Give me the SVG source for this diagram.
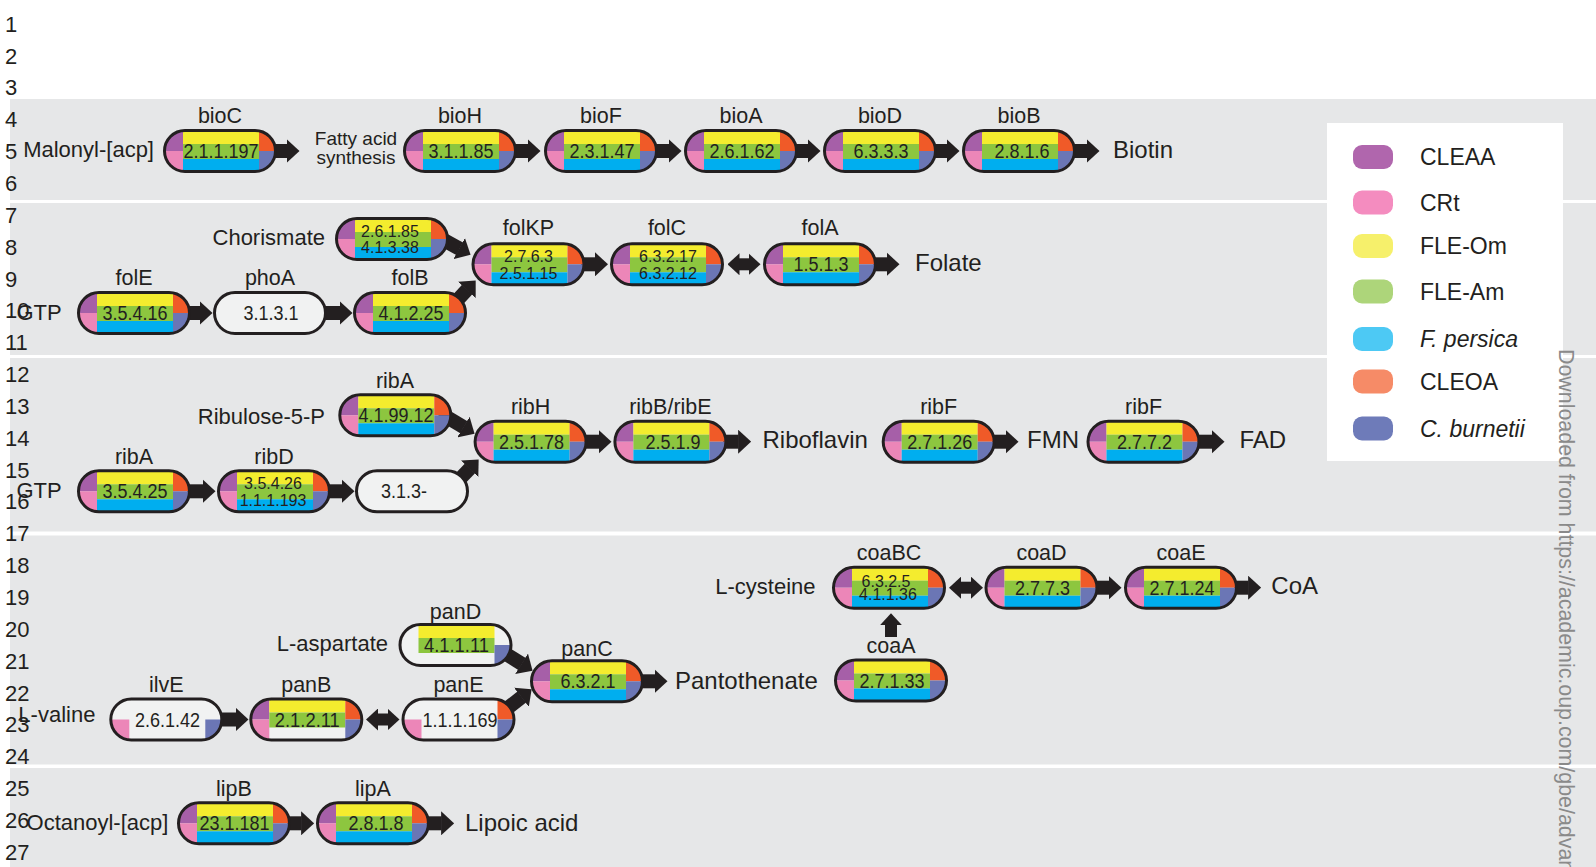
<svg xmlns="http://www.w3.org/2000/svg" xmlns:xlink="http://www.w3.org/1999/xlink" width="1596" height="867" viewBox="0 0 1596 867">
<style>
.t{font-family:"Liberation Sans",Arial,sans-serif;fill:#231f20}
.num{font-size:22px}
.sub{font-size:22px}
.sub.e{text-anchor:end}
.prod{font-size:24px}
.gene{font-size:21.5px;text-anchor:middle}
.ec{font-size:20px;text-anchor:middle}
.ec2{font-size:16px;text-anchor:middle}
.leg{font-size:23px}
.it{font-style:italic}
.band{fill:#e6e7e8}
.po{fill:none;stroke:#231f20;stroke-width:3}
.c{stroke:#231f20;stroke-width:14;fill:none}
.c2{stroke:#231f20;stroke-width:12;fill:none}
.wm{font-family:"Liberation Sans",Arial,sans-serif;font-size:21.4px;fill:#8a8a8a}
</style>
<defs>
<marker id="ah" markerUnits="userSpaceOnUse" viewBox="0 0 13 24" markerWidth="13" markerHeight="24" refX="0.5" refY="12" orient="auto"><path d="M0,0 L13,12 L0,24 Z" fill="#231f20"/></marker>
<marker id="ah2" markerUnits="userSpaceOnUse" viewBox="0 0 12 22" markerWidth="12" markerHeight="22" refX="0.5" refY="11" orient="auto-start-reverse"><path d="M0,0 L12,11 L0,22 Z" fill="#231f20"/></marker>
<clipPath id="pc"><rect x="1.5" y="-20.5" width="111" height="41" rx="20.5"/></clipPath>
<g id="pFull">
<g clip-path="url(#pc)">
<rect x="0" y="-22" width="20" height="22" fill="#a65fa8"/>
<rect x="0" y="0" width="20" height="22" fill="#ec86b8"/>
<rect x="20" y="-22" width="76" height="15" fill="#f4ec2e"/>
<rect x="20" y="-7" width="76" height="15" fill="#8dc63f"/>
<rect x="20" y="8" width="76" height="14" fill="#00aeef"/>
<rect x="96" y="-22" width="18" height="22" fill="#f05a28"/>
<rect x="96" y="0" width="18" height="22" fill="#6b76b5"/>
</g>
<rect class="po" x="1.5" y="-20.5" width="111" height="41" rx="20.5"/>
</g>
<g id="pWhite">
<rect x="1.5" y="-20.5" width="111" height="41" rx="20.5" fill="#f1f2f2"/>
<rect class="po" x="1.5" y="-20.5" width="111" height="41" rx="20.5"/>
</g>
<g id="pPanD">
<g clip-path="url(#pc)">
<rect x="0" y="-22" width="114" height="44" fill="#f1f2f2"/>
<rect x="20" y="-22" width="76" height="15" fill="#f4ec2e"/>
<rect x="20" y="-7" width="76" height="15" fill="#8dc63f"/>
<rect x="96" y="0" width="18" height="22" fill="#6b76b5"/>
</g>
<rect class="po" x="1.5" y="-20.5" width="111" height="41" rx="20.5"/>
</g>
<g id="pIlvE">
<g clip-path="url(#pc)">
<rect x="0" y="-22" width="114" height="44" fill="#f1f2f2"/>
<rect x="0" y="0" width="20" height="22" fill="#ec86b8"/>
<rect x="96" y="0" width="18" height="22" fill="#6b76b5"/>
</g>
<rect class="po" x="1.5" y="-20.5" width="111" height="41" rx="20.5"/>
</g>
<g id="pPanB">
<g clip-path="url(#pc)">
<rect x="0" y="-22" width="114" height="44" fill="#f1f2f2"/>
<rect x="0" y="-22" width="20" height="22" fill="#a65fa8"/>
<rect x="0" y="0" width="20" height="22" fill="#ec86b8"/>
<rect x="20" y="-22" width="76" height="15" fill="#f4ec2e"/>
<rect x="20" y="-7" width="76" height="15" fill="#8dc63f"/>
<rect x="96" y="-22" width="18" height="22" fill="#f05a28"/>
<rect x="96" y="0" width="18" height="22" fill="#6b76b5"/>
</g>
<rect class="po" x="1.5" y="-20.5" width="111" height="41" rx="20.5"/>
</g>
<g id="pPanE">
<g clip-path="url(#pc)">
<rect x="0" y="-22" width="114" height="44" fill="#f1f2f2"/>
<rect x="0" y="0" width="20" height="22" fill="#ec86b8"/>
<rect x="96" y="-22" width="18" height="22" fill="#f05a28"/>
<rect x="96" y="0" width="18" height="22" fill="#6b76b5"/>
</g>
<rect class="po" x="1.5" y="-20.5" width="111" height="41" rx="20.5"/>
</g>
</defs>

<rect width="1596" height="867" fill="#ffffff"/>
<g id="bands">
<rect class="band" x="10" y="99" width="1586" height="101"/>
<rect class="band" x="10" y="203" width="1586" height="152"/>
<rect class="band" x="10" y="358" width="1586" height="173.5"/>
<rect class="band" x="10" y="535.5" width="1586" height="229"/>
<rect class="band" x="10" y="768" width="1586" height="99"/>
</g>

<g id="legend">
<rect x="1327" y="123" width="236" height="338" fill="#ffffff"/>
<rect x="1353" y="145" width="40" height="24" rx="9" fill="#b066ad"/>
<rect x="1353" y="190.5" width="40" height="24" rx="9" fill="#f48cbf"/>
<rect x="1353" y="234" width="40" height="24" rx="9" fill="#f6f06b"/>
<rect x="1353" y="279.5" width="40" height="24" rx="9" fill="#add57a"/>
<rect x="1353" y="327" width="40" height="24" rx="9" fill="#4dc9f4"/>
<rect x="1353" y="369.5" width="40" height="24" rx="9" fill="#f68b67"/>
<rect x="1353" y="416.5" width="40" height="24" rx="9" fill="#6e7bb9"/>
<text class="t leg" x="1420" y="165">CLEAA</text>
<text class="t leg" x="1420" y="210.5">CRt</text>
<text class="t leg" x="1420" y="254">FLE-Om</text>
<text class="t leg" x="1420" y="299.5">FLE-Am</text>
<text class="t leg it" x="1420" y="347">F. persica</text>
<text class="t leg" x="1420" y="389.5">CLEOA</text>
<text class="t leg it" x="1420" y="436.5">C. burnetii</text>
</g>

<g id="connectors">
<line class="c" x1="273" y1="151" x2="287" y2="151" marker-end="url(#ah)"/>
<line class="c" x1="513" y1="151" x2="528" y2="151" marker-end="url(#ah)"/>
<line class="c" x1="654" y1="151" x2="669" y2="151" marker-end="url(#ah)"/>
<line class="c" x1="794" y1="151" x2="808" y2="151" marker-end="url(#ah)"/>
<line class="c" x1="933" y1="151" x2="947" y2="151" marker-end="url(#ah)"/>
<line class="c" x1="1072" y1="151" x2="1087" y2="151" marker-end="url(#ah)"/>

<line class="c" x1="187" y1="313" x2="200" y2="313" marker-end="url(#ah)"/>
<line class="c" x1="323" y1="313" x2="340" y2="313" marker-end="url(#ah)"/>
<line class="c" x1="581" y1="264.3" x2="595.5" y2="264.3" marker-end="url(#ah)"/>
<line class="c2" x1="739" y1="264.3" x2="749" y2="264.3" marker-start="url(#ah2)" marker-end="url(#ah2)"/>
<line class="c" x1="873" y1="264.3" x2="887" y2="264.3" marker-end="url(#ah)"/>
<line class="c" x1="440" y1="238" x2="459.6" y2="248.75" marker-end="url(#ah)"/>
<line class="c" x1="452" y1="306" x2="467.2" y2="289.6" marker-end="url(#ah)"/>

<line class="c" x1="187" y1="491.3" x2="203" y2="491.3" marker-end="url(#ah)"/>
<line class="c" x1="327" y1="491.3" x2="342" y2="491.3" marker-end="url(#ah)"/>
<line class="c" x1="440" y1="413" x2="463.85" y2="427.3" marker-end="url(#ah)"/>
<line class="c" x1="455" y1="484" x2="470" y2="468.4" marker-end="url(#ah)"/>
<line class="c" x1="584" y1="441.7" x2="599" y2="441.7" marker-end="url(#ah)"/>
<line class="c" x1="723" y1="441.7" x2="738.6" y2="441.7" marker-end="url(#ah)"/>
<line class="c" x1="992" y1="441.7" x2="1006" y2="441.7" marker-end="url(#ah)"/>
<line class="c" x1="1197" y1="441.7" x2="1212" y2="441.7" marker-end="url(#ah)"/>

<line class="c2" x1="960.5" y1="587.7" x2="971.5" y2="587.7" marker-start="url(#ah2)" marker-end="url(#ah2)"/>
<line class="c" x1="1095" y1="587.7" x2="1109" y2="587.7" marker-end="url(#ah)"/>
<line class="c" x1="1234" y1="587.7" x2="1248.6" y2="587.7" marker-end="url(#ah)"/>
<line class="c2" x1="891" y1="637" x2="891" y2="624.7" marker-end="url(#ah2)"/>
<line class="c" x1="495" y1="647" x2="522" y2="664" marker-end="url(#ah)"/>
<line class="c" x1="500" y1="714" x2="521.8" y2="697" marker-end="url(#ah)"/>
<line class="c" x1="640" y1="681.3" x2="655" y2="681.3" marker-end="url(#ah)"/>
<line class="c" x1="219" y1="719.5" x2="236" y2="719.5" marker-end="url(#ah)"/>
<line class="c2" x1="377.5" y1="719.5" x2="388" y2="719.5" marker-start="url(#ah2)" marker-end="url(#ah2)"/>

<line class="c" x1="287" y1="823.3" x2="301.6" y2="823.3" marker-end="url(#ah)"/>
<line class="c" x1="426" y1="823.3" x2="441.6" y2="823.3" marker-end="url(#ah)"/>
</g>

<g id="labels">
<text class="t sub e" x="154" y="157">Malonyl-[acp]</text>
<text class="t" font-size="19" text-anchor="middle" x="356" y="145">Fatty acid</text>
<text class="t" font-size="19" text-anchor="middle" x="356" y="164">synthesis</text>
<text class="t prod" x="1113" y="157.5">Biotin</text>
<text class="t sub e" x="325" y="245">Chorismate</text>
<text class="t sub e" x="61.7" y="319.5">GTP</text>
<text class="t prod" x="915" y="271">Folate</text>
<text class="t sub e" x="325" y="423.5">Ribulose-5-P</text>
<text class="t sub e" x="61.7" y="497.5">GTP</text>
<text class="t prod" x="762.5" y="448">Riboflavin</text>
<text class="t prod" x="1027" y="448">FMN</text>
<text class="t prod" x="1239.5" y="448">FAD</text>
<text class="t sub e" x="815.5" y="593.5">L-cysteine</text>
<text class="t prod" x="1271.3" y="594">CoA</text>
<text class="t sub e" x="388" y="650.5">L-aspartate</text>
<text class="t prod" x="675" y="688.5">Pantothenate</text>
<text class="t sub e" x="95.4" y="722">L-valine</text>
<text class="t sub e" x="168.4" y="830">Octanoyl-[acp]</text>
<text class="t prod" x="465" y="830.5">Lipoic acid</text>
</g>

<g id="n-bioC"><use xlink:href="#pFull" x="163" y="151"/><text class="t ec" x="221" y="158" textLength="75" lengthAdjust="spacingAndGlyphs">2.1.1.197</text><text class="t gene" x="220" y="123">bioC</text></g>
<g id="n-bioH"><use xlink:href="#pFull" x="403" y="151"/><text class="t ec" x="461" y="158" textLength="65" lengthAdjust="spacingAndGlyphs">3.1.1.85</text><text class="t gene" x="460" y="123">bioH</text></g>
<g id="n-bioF"><use xlink:href="#pFull" x="544" y="151"/><text class="t ec" x="602" y="158" textLength="65" lengthAdjust="spacingAndGlyphs">2.3.1.47</text><text class="t gene" x="601" y="123">bioF</text></g>
<g id="n-bioA"><use xlink:href="#pFull" x="684" y="151"/><text class="t ec" x="742" y="158" textLength="65" lengthAdjust="spacingAndGlyphs">2.6.1.62</text><text class="t gene" x="741" y="123">bioA</text></g>
<g id="n-bioD"><use xlink:href="#pFull" x="823" y="151"/><text class="t ec" x="881" y="158" textLength="55" lengthAdjust="spacingAndGlyphs">6.3.3.3</text><text class="t gene" x="880" y="123">bioD</text></g>
<g id="n-bioB"><use xlink:href="#pFull" x="962" y="151"/><text class="t ec" x="1022" y="158" textLength="55" lengthAdjust="spacingAndGlyphs">2.8.1.6</text><text class="t gene" x="1019" y="123">bioB</text></g>

<g id="n-folE"><use xlink:href="#pFull" x="77" y="313"/><text class="t ec" x="135" y="320" textLength="65" lengthAdjust="spacingAndGlyphs">3.5.4.16</text><text class="t gene" x="134" y="285">folE</text></g>
<g id="n-phoA"><use xlink:href="#pWhite" x="213" y="313"/><text class="t ec" x="271" y="320" textLength="55" lengthAdjust="spacingAndGlyphs">3.1.3.1</text><text class="t gene" x="270" y="285">phoA</text></g>
<g id="n-folB"><use xlink:href="#pFull" x="353" y="313"/><text class="t ec" x="411" y="320" textLength="65" lengthAdjust="spacingAndGlyphs">4.1.2.25</text><text class="t gene" x="410" y="285">folB</text></g>
<g id="n-chor"><use xlink:href="#pFull" x="335" y="239"/><text class="t ec2" x="390" y="237.3">2.6.1.85</text><text class="t ec2" x="390" y="253.3">4.1.3.38</text></g>
<g id="n-folKP"><use xlink:href="#pFull" x="471.5" y="264.3"/><text class="t ec2" x="528.5" y="261.7">2.7.6.3</text><text class="t ec2" x="528.5" y="278.7">2.5.1.15</text><text class="t gene" x="528.5" y="235">folKP</text></g>
<g id="n-folC"><use xlink:href="#pFull" x="610" y="264.3"/><text class="t ec2" x="668" y="261.7">6.3.2.17</text><text class="t ec2" x="668" y="278.7">6.3.2.12</text><text class="t gene" x="667" y="235">folC</text></g>
<g id="n-folA"><use xlink:href="#pFull" x="763" y="264.3"/><text class="t ec" x="821" y="271.3" textLength="55" lengthAdjust="spacingAndGlyphs">1.5.1.3</text><text class="t gene" x="820" y="235">folA</text></g>

<g id="n-ribA2"><use xlink:href="#pFull" x="338.3" y="415.3"/><text class="t ec" x="396" y="422.3" textLength="75" lengthAdjust="spacingAndGlyphs">4.1.99.12</text><text class="t gene" x="395" y="388">ribA</text></g>
<g id="n-ribA"><use xlink:href="#pFull" x="77" y="491.3"/><text class="t ec" x="135" y="498" textLength="65" lengthAdjust="spacingAndGlyphs">3.5.4.25</text><text class="t gene" x="134" y="463.5">ribA</text></g>
<g id="n-ribD"><use xlink:href="#pFull" x="217" y="491.3"/><text class="t ec2" x="273" y="489.3">3.5.4.26</text><text class="t ec2" x="273" y="505.5">1.1.1.193</text><text class="t gene" x="274" y="463.5">ribD</text></g>
<g id="n-ribX"><use xlink:href="#pWhite" x="355" y="491.3"/><text class="t ec" x="404" y="498" textLength="46" lengthAdjust="spacingAndGlyphs">3.1.3-</text></g>
<g id="n-ribH"><use xlink:href="#pFull" x="473.6" y="441.7"/><text class="t ec" x="531.6" y="448.5" textLength="65" lengthAdjust="spacingAndGlyphs">2.5.1.78</text><text class="t gene" x="530.6" y="413.5">ribH</text></g>
<g id="n-ribBE"><use xlink:href="#pFull" x="613.4" y="441.7"/><text class="t ec" x="673" y="448.5" textLength="55" lengthAdjust="spacingAndGlyphs">2.5.1.9</text><text class="t gene" x="670.4" y="413.5">ribB/ribE</text></g>
<g id="n-ribF"><use xlink:href="#pFull" x="881.7" y="441.7"/><text class="t ec" x="939.7" y="448.5" textLength="65" lengthAdjust="spacingAndGlyphs">2.7.1.26</text><text class="t gene" x="938.7" y="413.5">ribF</text></g>
<g id="n-ribF2"><use xlink:href="#pFull" x="1086.5" y="441.7"/><text class="t ec" x="1144.5" y="448.5" textLength="55" lengthAdjust="spacingAndGlyphs">2.7.7.2</text><text class="t gene" x="1143.5" y="413.5">ribF</text></g>

<g id="n-coaBC"><use xlink:href="#pFull" x="832" y="587.7"/><text class="t ec2" x="886" y="586.7">6.3.2.5</text><text class="t ec2" x="888" y="600.3">4.1.1.36</text><text class="t gene" x="889" y="560">coaBC</text></g>
<g id="n-coaD"><use xlink:href="#pFull" x="984.5" y="587.7"/><text class="t ec" x="1042.5" y="594.5" textLength="55" lengthAdjust="spacingAndGlyphs">2.7.7.3</text><text class="t gene" x="1041.5" y="560">coaD</text></g>
<g id="n-coaE"><use xlink:href="#pFull" x="1124" y="587.7"/><text class="t ec" x="1182" y="594.5" textLength="65" lengthAdjust="spacingAndGlyphs">2.7.1.24</text><text class="t gene" x="1181" y="560">coaE</text></g>
<g id="n-coaA"><use xlink:href="#pFull" x="834" y="680.5"/><text class="t ec" x="892" y="687.5" textLength="65" lengthAdjust="spacingAndGlyphs">2.7.1.33</text><text class="t gene" x="891" y="653">coaA</text></g>
<g id="n-panD"><use xlink:href="#pPanD" x="398.5" y="645"/><text class="t ec" x="456.5" y="652" textLength="65" lengthAdjust="spacingAndGlyphs">4.1.1.11</text><text class="t gene" x="455.5" y="619">panD</text></g>
<g id="n-panC"><use xlink:href="#pFull" x="530" y="681.3"/><text class="t ec" x="588" y="688.3" textLength="55" lengthAdjust="spacingAndGlyphs">6.3.2.1</text><text class="t gene" x="587" y="656">panC</text></g>
<g id="n-ilvE"><use xlink:href="#pIlvE" x="109.3" y="719.5"/><text class="t ec" x="167.5" y="726.5" textLength="65" lengthAdjust="spacingAndGlyphs">2.6.1.42</text><text class="t gene" x="166.3" y="691.5">ilvE</text></g>
<g id="n-panB"><use xlink:href="#pPanB" x="249.3" y="719.5"/><text class="t ec" x="307.3" y="726.5" textLength="65" lengthAdjust="spacingAndGlyphs">2.1.2.11</text><text class="t gene" x="306.3" y="691.5">panB</text></g>
<g id="n-panE"><use xlink:href="#pPanE" x="401.5" y="719.5"/><text class="t ec" x="460" y="726.5" textLength="75" lengthAdjust="spacingAndGlyphs">1.1.1.169</text><text class="t gene" x="458.5" y="691.5">panE</text></g>

<g id="n-lipB"><use xlink:href="#pFull" x="177" y="823.3"/><text class="t ec" x="234.5" y="830.3" textLength="70" lengthAdjust="spacingAndGlyphs">23.1.181</text><text class="t gene" x="234" y="796">lipB</text></g>
<g id="n-lipA"><use xlink:href="#pFull" x="316" y="823.3"/><text class="t ec" x="376" y="830.3" textLength="55" lengthAdjust="spacingAndGlyphs">2.8.1.8</text><text class="t gene" x="373" y="796">lipA</text></g>

<g id="linenumbers">
<text class="t num" x="5" y="31.7">1</text>
<text class="t num" x="5" y="63.55">2</text>
<text class="t num" x="5" y="95.4">3</text>
<text class="t num" x="5" y="127.25">4</text>
<text class="t num" x="5" y="159.1">5</text>
<text class="t num" x="5" y="190.95">6</text>
<text class="t num" x="5" y="222.8">7</text>
<text class="t num" x="5" y="254.65">8</text>
<text class="t num" x="5" y="286.5">9</text>
<text class="t num" x="5" y="318.35">10</text>
<text class="t num" x="5" y="350.2">11</text>
<text class="t num" x="5" y="382.05">12</text>
<text class="t num" x="5" y="413.9">13</text>
<text class="t num" x="5" y="445.75">14</text>
<text class="t num" x="5" y="477.6">15</text>
<text class="t num" x="5" y="509.45">16</text>
<text class="t num" x="5" y="541.3">17</text>
<text class="t num" x="5" y="573.15">18</text>
<text class="t num" x="5" y="605">19</text>
<text class="t num" x="5" y="636.85">20</text>
<text class="t num" x="5" y="668.7">21</text>
<text class="t num" x="5" y="700.55">22</text>
<text class="t num" x="5" y="732.4">23</text>
<text class="t num" x="5" y="764.25">24</text>
<text class="t num" x="5" y="796.1">25</text>
<text class="t num" x="5" y="827.95">26</text>
<text class="t num" x="5" y="859.8">27</text>
</g>

<text class="wm" transform="translate(1559,349) rotate(90)">Downloaded from https://academic.oup.com/gbe/advan</text>
</svg>
